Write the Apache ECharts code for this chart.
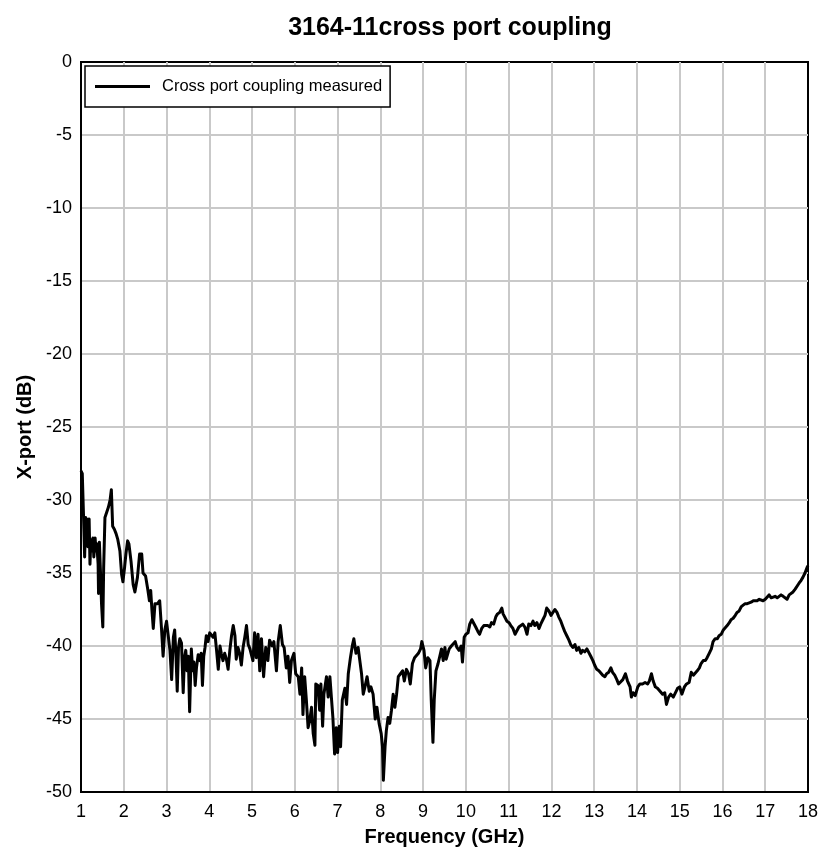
<!DOCTYPE html>
<html>
<head>
<meta charset="utf-8">
<title>3164-11cross port coupling</title>
<script src="https://cdn.jsdelivr.net/npm/echarts@6/dist/echarts.min.js"></script>
<style>
  html, body { margin: 0; padding: 0; background: #fff; }
  #chart { width: 823px; height: 856px; }
</style>
</head>
<body>
<div id="chart"></div>
<script>
// Measured cross port coupling, 1–18 GHz
const freqGHz = [
  1.00, 1.03, 1.06, 1.085, 1.11, 1.14, 1.16, 1.19, 1.21, 1.23, 1.26, 1.28, 1.30, 1.33, 1.35, 1.37, 1.40, 1.41, 1.43, 1.46,
  1.48, 1.51, 1.53, 1.56, 1.60, 1.64, 1.68, 1.71, 1.74, 1.78, 1.82, 1.86, 1.91, 1.95, 1.98, 2.02, 2.05, 2.09, 2.12, 2.17,
  2.22, 2.26, 2.29, 2.32, 2.37, 2.42, 2.45, 2.51, 2.56, 2.60, 2.63, 2.66, 2.69, 2.73, 2.79, 2.84, 2.88, 2.92, 2.96, 3.00,
  3.04, 3.08, 3.12, 3.16, 3.19, 3.22, 3.25, 3.28, 3.31, 3.35, 3.39, 3.42, 3.45, 3.48, 3.51, 3.54, 3.58, 3.61, 3.64, 3.67,
  3.70, 3.74, 3.78, 3.81, 3.84, 3.87, 3.90, 3.93, 3.97, 4.01, 4.05, 4.09, 4.13, 4.17, 4.21, 4.25, 4.28, 4.32, 4.36, 4.40,
  4.44, 4.48, 4.52, 4.56, 4.60, 4.63, 4.67, 4.71, 4.75, 4.79, 4.83, 4.87, 4.91, 4.95, 4.98, 5.02, 5.06, 5.10, 5.14, 5.18,
  5.22, 5.27, 5.32, 5.37, 5.41, 5.47, 5.51, 5.57, 5.61, 5.66, 5.71, 5.75, 5.80, 5.84, 5.88, 5.92, 5.98, 6.02, 6.08, 6.12,
  6.16, 6.19, 6.23, 6.27, 6.31, 6.35, 6.39, 6.43, 6.47, 6.49, 6.54, 6.58, 6.61, 6.65, 6.68, 6.74, 6.78, 6.82, 6.86, 6.89,
  6.93, 6.97, 7.00, 7.04, 7.07, 7.11, 7.17, 7.21, 7.25, 7.30, 7.35, 7.38, 7.43, 7.48, 7.52, 7.56, 7.60, 7.64, 7.69, 7.74,
  7.78, 7.83, 7.88, 7.92, 7.97, 8.02, 8.05, 8.07, 8.11, 8.14, 8.18, 8.22, 8.26, 8.30, 8.34, 8.38, 8.42, 8.47, 8.52, 8.56,
  8.61, 8.66, 8.70, 8.75, 8.80, 8.84, 8.89, 8.94, 8.97, 9.02, 9.06, 9.11, 9.16, 9.19, 9.23, 9.26, 9.30, 9.35, 9.39, 9.43,
  9.47, 9.51, 9.54, 9.61, 9.66, 9.70, 9.75, 9.79, 9.84, 9.89, 9.92, 9.96, 10.00, 10.05, 10.09, 10.14, 10.18, 10.23, 10.28, 10.32,
  10.37, 10.42, 10.46, 10.51, 10.56, 10.60, 10.65, 10.70, 10.74, 10.79, 10.84, 10.87, 10.91, 10.96, 11.01, 11.05, 11.10, 11.15, 11.19, 11.24,
  11.28, 11.33, 11.38, 11.43, 11.47, 11.52, 11.57, 11.61, 11.66, 11.71, 11.75, 11.80, 11.85, 11.89, 11.94, 11.99, 12.03, 12.08, 12.13, 12.17,
  12.22, 12.27, 12.31, 12.36, 12.41, 12.45, 12.50, 12.55, 12.59, 12.64, 12.69, 12.73, 12.78, 12.83, 12.87, 12.92, 12.97, 13.01, 13.06, 13.11,
  13.15, 13.20, 13.25, 13.29, 13.34, 13.39, 13.43, 13.48, 13.53, 13.57, 13.60, 13.67, 13.73, 13.78, 13.84, 13.87, 13.91, 13.96, 14.02, 14.07,
  14.13, 14.19, 14.25, 14.29, 14.34, 14.38, 14.43, 14.48, 14.54, 14.60, 14.65, 14.69, 14.74, 14.79, 14.85, 14.89, 14.95, 15.00, 15.05, 15.11,
  15.16, 15.22, 15.27, 15.32, 15.36, 15.41, 15.46, 15.50, 15.55, 15.60, 15.64, 15.69, 15.74, 15.78, 15.83, 15.88, 15.92, 15.97, 16.02, 16.06,
  16.11, 16.16, 16.20, 16.25, 16.30, 16.34, 16.39, 16.44, 16.48, 16.53, 16.58, 16.62, 16.67, 16.72, 16.76, 16.81, 16.86, 16.90, 16.95, 17.00,
  17.04, 17.09, 17.14, 17.18, 17.23, 17.28, 17.32, 17.37, 17.42, 17.46, 17.51, 17.56, 17.60, 17.65, 17.70, 17.74, 17.79, 17.84, 17.88, 17.93,
  17.98, 18.00
];

const xportDb = [
  -28.0, -28.2, -31.2, -33.9, -31.2, -31.4, -33.2, -31.3, -34.4, -32.7, -33.5, -32.6, -33.9, -32.6, -33.5, -33.0, -34.4, -36.4, -32.9, -35.3,
  -37.1, -38.7, -34.6, -31.2, -31.1, -30.5, -30.0, -29.3, -31.8, -32.0, -32.3, -32.7, -33.5, -35.1, -35.6, -34.6, -33.7, -32.8, -33.0, -34.2,
  -35.8, -36.3, -35.8, -35.3, -33.7, -33.7, -35.0, -35.2, -36.1, -36.9, -36.2, -37.6, -38.8, -37.1, -37.1, -36.9, -38.7, -40.7, -38.9, -38.3,
  -39.3, -40.3, -42.3, -39.4, -38.9, -40.6, -43.1, -40.1, -39.5, -39.8, -43.2, -40.8, -40.3, -41.7, -40.7, -44.5, -40.2, -41.7, -41.1, -42.7,
  -41.5, -40.6, -41.0, -40.5, -42.7, -40.7, -40.1, -39.3, -39.7, -39.1, -39.0, -39.4, -39.1, -40.3, -41.6, -40.0, -40.5, -41.0, -40.5, -40.9,
  -41.6, -40.3, -39.3, -38.6, -39.3, -40.9, -40.1, -40.5, -41.3, -40.1, -39.4, -38.6, -39.9, -40.2, -40.3, -41.0, -39.1, -40.8, -39.2, -41.7,
  -39.5, -42.1, -40.1, -41.0, -39.6, -40.0, -39.7, -41.7, -39.7, -38.6, -39.9, -40.1, -41.5, -40.7, -42.5, -41.0, -40.5, -41.9, -42.1, -43.3,
  -41.5, -44.7, -42.1, -43.7, -45.6, -45.1, -44.2, -46.0, -46.8, -42.6, -42.7, -44.4, -42.6, -45.5, -43.3, -42.1, -43.5, -42.1, -43.7, -44.9,
  -47.4, -45.6, -47.3, -45.5, -46.9, -43.7, -42.9, -44.0, -41.9, -40.8, -39.9, -39.5, -40.5, -40.1, -41.0, -41.9, -43.3, -42.8, -42.1, -43.1,
  -42.8, -43.3, -45.0, -44.2, -45.3, -46.0, -46.9, -49.2, -46.9, -45.8, -44.9, -45.3, -44.4, -43.3, -44.2, -43.3, -42.1, -41.9, -41.7, -42.4,
  -41.6, -41.9, -42.6, -41.2, -40.8, -40.7, -40.5, -40.2, -39.7, -40.3, -41.5, -40.8, -41.0, -43.7, -46.6, -43.7, -41.7, -41.2, -40.7, -40.2,
  -41.0, -40.1, -40.9, -40.2, -40.0, -39.9, -39.7, -40.1, -40.3, -40.0, -41.1, -39.4, -39.2, -39.1, -38.5, -38.2, -38.3, -38.7, -39.0, -39.2,
  -38.8, -38.6, -38.7, -38.6, -38.7, -38.4, -38.5, -38.0, -37.8, -37.7, -37.4, -37.8, -37.8, -38.3, -38.4, -38.6, -38.8, -39.2, -39.1, -38.7,
  -38.6, -38.5, -38.7, -39.2, -38.5, -38.6, -38.3, -38.6, -38.4, -38.8, -38.5, -38.2, -37.9, -37.4, -37.6, -37.9, -37.8, -37.5, -37.7, -38.0,
  -38.3, -38.7, -39.0, -39.3, -39.6, -39.9, -40.1, -39.9, -40.3, -40.1, -40.5, -40.3, -40.4, -40.2, -40.3, -40.7, -41.0, -41.3, -41.6, -41.7,
  -41.8, -42.0, -42.1, -41.9, -41.8, -41.5, -41.8, -42.0, -42.3, -42.6, -42.5, -42.3, -41.9, -42.4, -42.8, -43.5, -43.2, -43.4, -42.8, -42.6,
  -42.6, -42.5, -42.6, -42.4, -41.9, -42.4, -42.8, -42.9, -43.1, -43.3, -43.2, -44.0, -43.5, -43.3, -43.5, -43.6, -42.9, -42.8, -43.3, -42.8,
  -42.6, -42.5, -41.8, -42.0, -41.9, -41.7, -41.5, -41.2, -41.0, -41.0, -40.8, -40.5, -40.2, -39.7, -39.5, -39.5, -39.3, -39.2, -38.9, -38.8,
  -38.6, -38.4, -38.2, -38.1, -37.9, -37.7, -37.6, -37.3, -37.2, -37.1, -37.1, -37.1, -37.0, -36.9, -37.0, -36.9, -36.8, -36.9, -36.9, -36.8,
  -36.7, -36.5, -36.7, -36.6, -36.6, -36.7, -36.6, -36.5, -36.6, -36.7, -36.8, -36.5, -36.4, -36.3, -36.1, -36.0, -35.7, -35.5, -35.3, -35.0,
  -34.6, -34.5
];

const seriesName = 'Cross port coupling measured';
const chartTitle = '3164-11cross port coupling';
const xAxisTitle = 'Frequency (GHz)';
const yAxisTitle = 'X-port (dB)';

const sans = '"Liberation Sans", Arial, sans-serif';

const points = freqGHz.map((f, i) => [f, xportDb[i]]);

const chart = echarts.init(document.getElementById('chart'), null, { renderer: 'canvas' });

chart.setOption({
  animation: false,
  backgroundColor: '#ffffff',
  title: {
    text: chartTitle,
    left: 445,
    top: 11,
    textAlign: 'center',
    textStyle: { fontFamily: sans, fontWeight: 'bold', fontSize: 25, color: '#000' }
  },
  legend: {
    left: 85,
    top: 66,
    orient: 'horizontal',
    backgroundColor: '#fff',
    borderColor: '#000',
    borderWidth: 1.5,
    borderRadius: 0,
    padding: [12, 8, 12, 10],
    itemWidth: 55,
    itemHeight: 3,
    textStyle: { fontFamily: sans, fontSize: 16.5, color: '#000', padding: [0, 0, 0, 7] },
    data: [{ name: seriesName, icon: 'path://M0,0 L55,0 L55,3 L0,3 Z', itemStyle: { color: '#000' } }]
  },
  grid: {
    left: 81,
    right: 15,
    top: 62,
    bottom: 64,
    show: true,
    borderColor: '#000',
    borderWidth: 2,
    backgroundColor: '#fff'
  },
  xAxis: {
    type: 'value',
    min: 1,
    max: 18,
    interval: 1,
    name: xAxisTitle,
    nameLocation: 'middle',
    nameGap: 35,
    nameTextStyle: { fontFamily: sans, fontWeight: 'bold', fontSize: 20, color: '#000' },
    axisLine: { show: true, onZero: false, lineStyle: { color: '#000', width: 2 } },
    axisTick: { show: false },
    axisLabel: { margin: 11, fontFamily: sans, fontSize: 18, color: '#000' },
    splitLine: { show: true, showMinLine: false, showMaxLine: false, lineStyle: { color: '#c9c9c9', width: 2 } }
  },
  yAxis: {
    type: 'value',
    min: -50,
    max: 0,
    interval: 5,
    name: yAxisTitle,
    nameLocation: 'middle',
    nameGap: 41,
    nameTextStyle: { fontFamily: sans, fontWeight: 'bold', fontSize: 20, color: '#000' },
    axisLine: { show: true, onZero: false, lineStyle: { color: '#000', width: 2 } },
    axisTick: { show: false },
    axisLabel: { margin: 9, fontFamily: sans, fontSize: 18, color: '#000' },
    splitLine: { show: true, showMinLine: false, showMaxLine: false, lineStyle: { color: '#c9c9c9', width: 2 } }
  },
  series: [{
    name: seriesName,
    type: 'line',
    data: points,
    showSymbol: false,
    symbol: 'none',
    smooth: false,
    clip: true,
    lineStyle: { color: '#000', width: 3, join: 'round' },
    itemStyle: { color: '#000' }
  }]
});
</script>
</body>
</html>
